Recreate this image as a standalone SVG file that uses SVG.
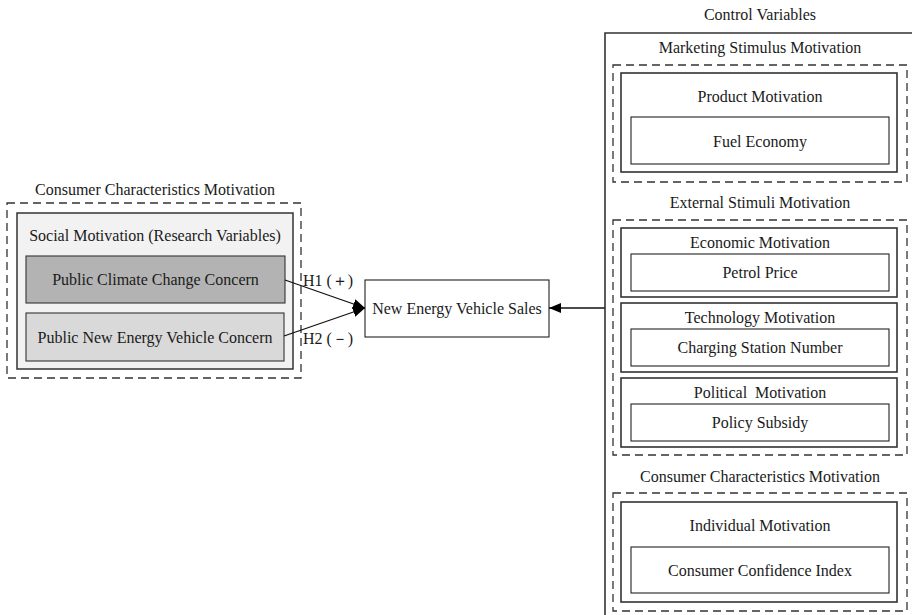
<svg xmlns="http://www.w3.org/2000/svg" width="912" height="615" viewBox="0 0 912 615">
<defs>
<style>
text{font-family:"Liberation Serif","Times New Roman",serif;font-size:16px;fill:#1a1a1a;text-anchor:middle;dominant-baseline:central}
.dash{fill:none;stroke:#333;stroke-width:1.3;stroke-dasharray:8,5}
.grp{fill:none;stroke:#333;stroke-width:1.6}
.box{fill:#fff;stroke:#222;stroke-width:1.1}
.conn{stroke:#111;stroke-width:1.3;fill:none}
</style>
<marker id="ah" viewBox="0 0 12 10" refX="12" refY="5" markerWidth="12" markerHeight="10" markerUnits="userSpaceOnUse" orient="auto">
<path d="M0,0 L12,5 L0,10 Z" fill="#000"/>
</marker>
</defs>
<rect width="912" height="615" fill="#fff"/>

<g id="left-group">
<text x="155" y="189">Consumer Characteristics Motivation</text>
<rect class="dash" x="7" y="203" width="294" height="175"/>
<rect x="17" y="213" width="276" height="156" fill="#f2f2f2" stroke="#333" stroke-width="1.5"/>
<text x="155" y="235">Social Motivation (Research Variables)</text>
</g>
<g id="climate">
<rect x="26" y="256" width="259" height="47" fill="#b3b3b3" stroke="#333" stroke-width="1.1"/>
<text x="155.5" y="279.5">Public Climate Change Concern</text>
</g>
<g id="nev-concern">
<rect x="26" y="313" width="258" height="48" fill="#d9d9d9" stroke="#333" stroke-width="1.1"/>
<text x="155" y="337">Public New Energy Vehicle Concern</text>
</g>

<g id="sales">
<rect class="box" x="365" y="280" width="184" height="57"/>
<text x="457" y="308">New Energy Vehicle Sales</text>
</g>

<g id="connectors">
<line class="conn" x1="285" y1="280" x2="365" y2="308" marker-end="url(#ah)"/>
<line class="conn" x1="284" y1="336" x2="365" y2="308" marker-end="url(#ah)"/>
<line class="conn" x1="605" y1="308" x2="549" y2="308" marker-end="url(#ah)"/>
<text x="328" y="280" xml:space="preserve">H1 (＋)</text>
<text x="328" y="338" xml:space="preserve">H2 (－)</text>
</g>

<g id="control">
<text x="760" y="14">Control Variables</text>
<path class="grp" d="M912,33 H605 V615"/>
<text x="760" y="47">Marketing Stimulus Motivation</text>
<rect class="dash" x="613" y="65" width="294" height="117"/>
<text x="760" y="202">External Stimuli Motivation</text>
<rect class="dash" x="613" y="220" width="294" height="235"/>
<text x="760" y="476">Consumer Characteristics Motivation</text>
<rect class="dash" x="613" y="493" width="294" height="118"/>
</g>

<g id="product">
<rect class="grp" x="621" y="73" width="276" height="99"/>
<text x="760" y="96">Product Motivation</text>
<rect class="box" x="631" y="117" width="258" height="47"/>
<text x="760" y="141">Fuel Economy</text>
</g>

<g id="economic">
<rect class="grp" x="621" y="228" width="276" height="69"/>
<text x="760" y="242">Economic Motivation</text>
<rect class="box" x="631" y="254" width="258" height="37"/>
<text x="760" y="272">Petrol Price</text>
</g>

<g id="technology">
<rect class="grp" x="621" y="303" width="276" height="69"/>
<text x="760" y="317">Technology Motivation</text>
<rect class="box" x="631" y="329" width="258" height="37"/>
<text x="760" y="347">Charging Station Number</text>
</g>

<g id="political">
<rect class="grp" x="621" y="378" width="276" height="69"/>
<text x="760" y="392" xml:space="preserve">Political  Motivation</text>
<rect class="box" x="631" y="404" width="258" height="37"/>
<text x="760" y="422">Policy Subsidy</text>
</g>

<g id="individual">
<rect class="grp" x="621" y="502" width="276" height="100"/>
<text x="760" y="525">Individual Motivation</text>
<rect class="box" x="631" y="547" width="258" height="46"/>
<text x="760" y="570">Consumer Confidence Index</text>
</g>
</svg>
